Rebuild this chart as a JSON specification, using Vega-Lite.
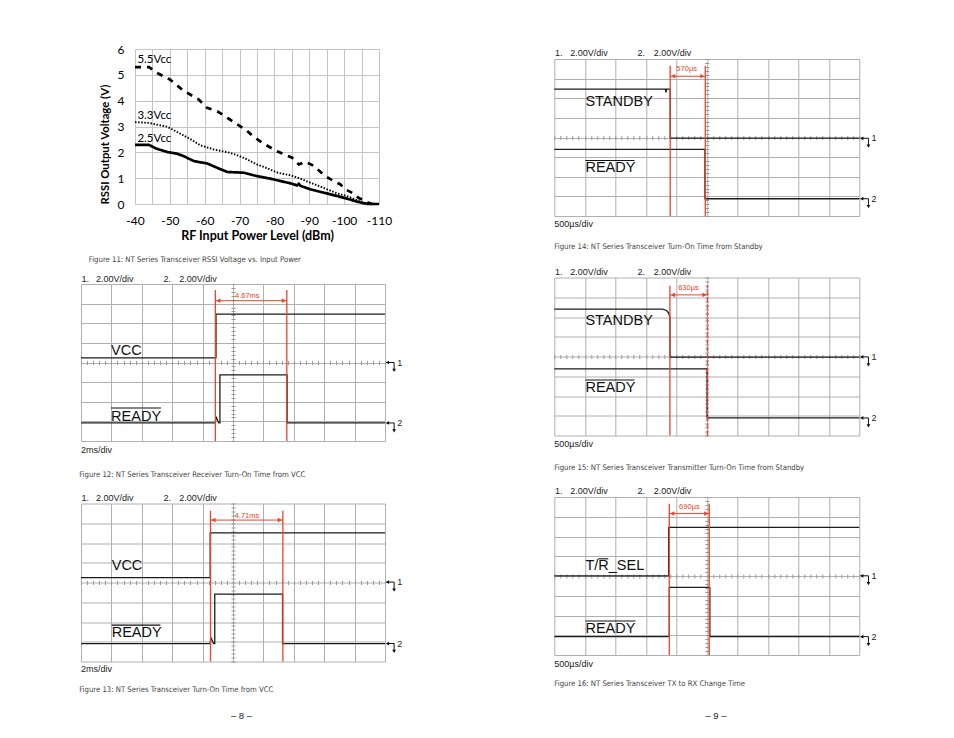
{
  "$schema": "https://vega.github.io/schema/vega-lite/v6.json",
  "background": "white",
  "padding": {"left": 78, "top": 43, "right": 20, "bottom": 10},
  "autosize": {"type": "pad"},
  "config": {"view": {"stroke": null}, "font": "Liberation Sans"},
  "bounds": "flush",
  "spacing": 473.3,
  "hconcat": [
    {
      "bounds": "flush",
      "spacing": 235,
      "vconcat": [
        {
          "bounds": "flush",
          "spacing": 53,
          "hconcat": [
            {"width": 1, "height": 1, "data": {"values": [{}]}, "mark": {"type": "point", "opacity": 0}, "encoding": {}},
            {
              "width": 244,
              "height": 155,
              "resolve": {"axis": {"x": "independent", "y": "independent"}},
              "layer": [
                {
                  "data": {"values": [
                    {"s": "5.5Vcc", "p": -40, "v": 5.3}, {"s": "5.5Vcc", "p": -44, "v": 5.3}, {"s": "5.5Vcc", "p": -46.4, "v": 5.07}, {"s": "5.5Vcc", "p": -50, "v": 4.82}, {"s": "5.5Vcc", "p": -53.8, "v": 4.4}, {"s": "5.5Vcc", "p": -58.3, "v": 4.04}, {"s": "5.5Vcc", "p": -60.7, "v": 3.72}, {"s": "5.5Vcc", "p": -63.6, "v": 3.59}, {"s": "5.5Vcc", "p": -66.9, "v": 3.3}, {"s": "5.5Vcc", "p": -69.8, "v": 3.04}, {"s": "5.5Vcc", "p": -71.7, "v": 2.88}, {"s": "5.5Vcc", "p": -74.1, "v": 2.59}, {"s": "5.5Vcc", "p": -77.4, "v": 2.3}, {"s": "5.5Vcc", "p": -80.3, "v": 2.07}, {"s": "5.5Vcc", "p": -85.1, "v": 1.79}, {"s": "5.5Vcc", "p": -87, "v": 1.53}, {"s": "5.5Vcc", "p": -88.9, "v": 1.64}, {"s": "5.5Vcc", "p": -91.3, "v": 1.47}, {"s": "5.5Vcc", "p": -94.6, "v": 1.08}, {"s": "5.5Vcc", "p": -97, "v": 0.89}, {"s": "5.5Vcc", "p": -98.9, "v": 0.76}, {"s": "5.5Vcc", "p": -100.3, "v": 0.57}, {"s": "5.5Vcc", "p": -103.2, "v": 0.37}, {"s": "5.5Vcc", "p": -104.1, "v": 0.24}, {"s": "5.5Vcc", "p": -107, "v": 0.05}, {"s": "5.5Vcc", "p": -108, "v": 0.0},
                    {"s": "3.3Vcc", "p": -40, "v": 3.17}, {"s": "3.3Vcc", "p": -44, "v": 3.14}, {"s": "3.3Vcc", "p": -46, "v": 3.08}, {"s": "3.3Vcc", "p": -49.3, "v": 2.99}, {"s": "3.3Vcc", "p": -52.6, "v": 2.75}, {"s": "3.3Vcc", "p": -56, "v": 2.5}, {"s": "3.3Vcc", "p": -58.8, "v": 2.27}, {"s": "3.3Vcc", "p": -62.6, "v": 2.11}, {"s": "3.3Vcc", "p": -67.4, "v": 1.98}, {"s": "3.3Vcc", "p": -71.2, "v": 1.79}, {"s": "3.3Vcc", "p": -75, "v": 1.53}, {"s": "3.3Vcc", "p": -78, "v": 1.38}, {"s": "3.3Vcc", "p": -81, "v": 1.21}, {"s": "3.3Vcc", "p": -84.6, "v": 1.11}, {"s": "3.3Vcc", "p": -87.5, "v": 0.98}, {"s": "3.3Vcc", "p": -90.4, "v": 0.82}, {"s": "3.3Vcc", "p": -94, "v": 0.63}, {"s": "3.3Vcc", "p": -98, "v": 0.41}, {"s": "3.3Vcc", "p": -100.8, "v": 0.31}, {"s": "3.3Vcc", "p": -103.7, "v": 0.14}, {"s": "3.3Vcc", "p": -105.6, "v": 0.05}, {"s": "3.3Vcc", "p": -107, "v": 0.02}, {"s": "3.3Vcc", "p": -110, "v": 0.0},
                    {"s": "2.5Vcc", "p": -40, "v": 2.29}, {"s": "2.5Vcc", "p": -44, "v": 2.29}, {"s": "2.5Vcc", "p": -46, "v": 2.15}, {"s": "2.5Vcc", "p": -49.3, "v": 2.01}, {"s": "2.5Vcc", "p": -52, "v": 1.95}, {"s": "2.5Vcc", "p": -54, "v": 1.85}, {"s": "2.5Vcc", "p": -56.9, "v": 1.66}, {"s": "2.5Vcc", "p": -60.7, "v": 1.57}, {"s": "2.5Vcc", "p": -63.6, "v": 1.4}, {"s": "2.5Vcc", "p": -66.5, "v": 1.24}, {"s": "2.5Vcc", "p": -71.2, "v": 1.21}, {"s": "2.5Vcc", "p": -75, "v": 1.08}, {"s": "2.5Vcc", "p": -78.9, "v": 0.98}, {"s": "2.5Vcc", "p": -81.7, "v": 0.89}, {"s": "2.5Vcc", "p": -84.6, "v": 0.8}, {"s": "2.5Vcc", "p": -86.5, "v": 0.72}, {"s": "2.5Vcc", "p": -87, "v": 0.78}, {"s": "2.5Vcc", "p": -87.5, "v": 0.7}, {"s": "2.5Vcc", "p": -90.3, "v": 0.57}, {"s": "2.5Vcc", "p": -94.1, "v": 0.44}, {"s": "2.5Vcc", "p": -98, "v": 0.31}, {"s": "2.5Vcc", "p": -100.8, "v": 0.21}, {"s": "2.5Vcc", "p": -103.7, "v": 0.09}, {"s": "2.5Vcc", "p": -105.6, "v": 0.03}, {"s": "2.5Vcc", "p": -107, "v": 0.0}, {"s": "2.5Vcc", "p": -110, "v": 0.0}
                  ]},
                  "mark": {"type": "line", "color": "#000000"},
                  "encoding": {
                    "x": {"field": "p", "type": "quantitative", "scale": {"domain": [-40, -110], "nice": false, "zero": false},
                      "axis": {"orient": "bottom", "values": [-40, -45, -50, -55, -60, -65, -70, -75, -80, -85, -90, -95, -100, -105, -110], "grid": true, "gridColor": "#c4c4c4", "gridOpacity": 1, "ticks": false, "domain": false, "labelFlush": false, "labelOverlap": false,
                        "labelExpr": "datum.value % 10 == 0 ? '-' + abs(datum.value) : ''", "labelFont": "Lato", "labelFontSize": 12, "labelColor": "#000000", "labelPadding": 11.5,
                        "title": "RF Input Power Level (dBm)", "titleFont": "Lato", "titleFontSize": 12.5, "titleFontWeight": "bold", "titleColor": "#000000", "titlePadding": 3}},
                    "y": {"field": "v", "type": "quantitative", "scale": {"domain": [0, 6], "nice": false},
                      "axis": {"orient": "left", "values": [0, 1, 2, 3, 4, 5, 6], "grid": true, "gridColor": "#c4c4c4", "gridOpacity": 1, "ticks": false, "domain": false, "labelOverlap": false, "labelFont": "Lato", "labelFontSize": 12, "labelColor": "#000000", "labelPadding": 11,
                        "title": "RSSI Output Voltage (V)", "titleFont": "Lato", "titleFontSize": 11.3, "titleFontWeight": "bold", "titleColor": "#000000", "titlePadding": 7, "titleAnchor": "start"}},
                    "strokeDash": {"field": "s", "type": "nominal", "scale": {"domain": ["5.5Vcc", "3.3Vcc", "2.5Vcc"], "range": [[6, 6], [1.5, 1.6], [1, 0]]}, "legend": null},
                    "strokeWidth": {"condition": {"test": "datum.s == '3.3Vcc'", "value": 1.9}, "value": 2.7}
                  }
                },
                {
                  "data": {"values": [
                    {"s": "5.5Vcc", "p": -40.7, "v": 5.56}, {"s": "3.3Vcc", "p": -40.7, "v": 3.42}, {"s": "2.5Vcc", "p": -40.7, "v": 2.5}
                  ]},
                  "mark": {"type": "text", "align": "left", "baseline": "middle", "font": "Lato", "fontSize": 11.5, "color": "#000000"},
                  "encoding": {"x": {"field": "p", "type": "quantitative", "axis": null}, "y": {"field": "v", "type": "quantitative", "axis": null}, "text": {"field": "s"}}
                },
                {
                  "data": {"values": [{"p": -26.74, "v": -2.17, "t": "Figure 11: NT Series Transceiver RSSI Voltage vs. Input Power"}]},
                  "mark": {"type": "text", "align": "left", "baseline": "middle", "font": "Liberation Sans Narrow, Arial Narrow, DejaVu Sans Condensed, sans-serif", "fontSize": 7.7, "color": "#444444"},
                  "encoding": {"x": {"field": "p", "type": "quantitative", "axis": null}, "y": {"field": "v", "type": "quantitative", "axis": null}, "text": {"field": "t"}}
                }
              ]
            }
          ]
        },
        {
          "bounds": "flush",
          "spacing": 62.5,
          "vconcat": [
            {
              "width": 304, "height": 157,
              "data": {"values": [
                {"k": "t", "ch": 1, "x": 0, "y": 4.24}, {"k": "t", "ch": 1, "x": 4.44, "y": 4.24}, {"k": "t", "ch": 1, "x": 4.44, "y": 6.47}, {"k": "t", "ch": 1, "x": 10, "y": 6.47},
                {"k": "t", "ch": 2, "x": 0, "y": 0.92}, {"k": "t", "ch": 2, "x": 4.42, "y": 0.92}, {"k": "t", "ch": 2, "x": 4.44, "y": 1.25}, {"k": "t", "ch": 2, "x": 4.53, "y": 0.92}, {"k": "t", "ch": 2, "x": 4.57, "y": 0.92}, {"k": "t", "ch": 2, "x": 4.57, "y": 3.37}, {"k": "t", "ch": 2, "x": 6.78, "y": 3.37}, {"k": "t", "ch": 2, "x": 6.78, "y": 0.92}, {"k": "t", "ch": 2, "x": 10, "y": 0.92},
                {"k": "c", "x": 4.42, "y": 0, "y2": 7.69}, {"k": "c", "x": 6.77, "y": 0, "y2": 7.69},
                {"k": "a", "x": 4.42, "x2": 6.77, "y": 7.15},
                {"k": "cl", "x": 5.47, "y": 7.4, "text": "4.67ms"},
                {"k": "s", "x": 0.02, "y": 8.28, "text": "1."}, {"k": "s", "x": 0.49, "y": 8.28, "text": "2.00V/div"}, {"k": "s", "x": 2.71, "y": 8.28, "text": "2."}, {"k": "s", "x": 3.23, "y": 8.28, "text": "2.00V/div"}, {"k": "s", "x": 0, "y": -0.47, "text": "2ms/div"},
                {"k": "cap", "x": -0.06, "y": -1.71, "text": "Figure 12: NT Series Transceiver Receiver Turn-On Time from VCC"},
                {"k": "L", "x": 0.99, "y": 4.39, "text": "VCC"}, {"k": "L", "x": 0.99, "y": 1.0, "text": "READY"},
                {"k": "o", "x": 0.99, "x2": 2.63, "y": 1.68},
                {"k": "g", "y": 4.0, "y2": 3.6, "text": "1"}, {"k": "g", "y": 0.92, "y2": 0.52, "text": "2"}
              ]},
              "resolve": {"axis": {"x": "independent", "y": "independent"}},
              "layer": [
                {"transform": [{"filter": "datum.k == 't'"}], "mark": {"type": "line", "color": "#1c1c1c", "strokeWidth": 1.3},
                  "encoding": {"x": {"field": "x", "type": "quantitative", "scale": {"domain": [0, 10], "nice": false, "zero": false}, "axis": {"grid": true, "ticks": false, "labels": false, "domain": false, "title": null, "tickCount": 10, "gridColor": "#b0b0b0", "gridOpacity": 1}},
                    "y": {"field": "y", "type": "quantitative", "scale": {"domain": [0, 8], "nice": false, "zero": false}, "axis": {"grid": true, "ticks": false, "labels": false, "domain": false, "title": null, "tickCount": 8, "gridColor": "#b0b0b0", "gridOpacity": 1}},
                    "detail": {"field": "ch", "type": "nominal"}, "order": {"value": null}}},
                {"transform": [{"filter": "datum.k == 'c'"}], "mark": {"type": "rule", "color": "#e8452b", "strokeWidth": 1.3},
                  "encoding": {"x": {"field": "x", "type": "quantitative", "axis": {"orient": "top", "offset": -80.5, "grid": false, "labels": false, "domain": false, "title": null, "tickCount": 50, "tickSize": 4, "tickColor": "#999999"}},
                    "y": {"field": "y", "type": "quantitative", "axis": {"orient": "right", "offset": -154, "grid": false, "labels": false, "domain": false, "title": null, "tickCount": 40, "tickSize": 4, "tickColor": "#999999"}},
                    "y2": {"field": "y2"}}},
                {"transform": [{"filter": "datum.k == 'a'"}], "mark": {"type": "rule", "color": "#e8452b", "strokeWidth": 1},
                  "encoding": {"x": {"field": "x", "type": "quantitative", "axis": null}, "x2": {"field": "x2"}, "y": {"field": "y", "type": "quantitative", "axis": null}}},
                {"transform": [{"filter": "datum.k == 'a'"}], "mark": {"type": "point", "shape": "triangle-left", "filled": true, "color": "#e8452b", "opacity": 1, "size": 22, "xOffset": 3},
                  "encoding": {"x": {"field": "x", "type": "quantitative", "axis": null}, "y": {"field": "y", "type": "quantitative", "axis": null}}},
                {"transform": [{"filter": "datum.k == 'a'"}], "mark": {"type": "point", "shape": "triangle-right", "filled": true, "color": "#e8452b", "opacity": 1, "size": 22, "xOffset": -3},
                  "encoding": {"x": {"field": "x2", "type": "quantitative", "axis": null}, "y": {"field": "y", "type": "quantitative", "axis": null}}},
                {"transform": [{"filter": "datum.k == 'cl'"}], "mark": {"type": "text", "color": "#e8452b", "fontSize": 7.5, "align": "center", "baseline": "middle"},
                  "encoding": {"x": {"field": "x", "type": "quantitative", "axis": null}, "y": {"field": "y", "type": "quantitative", "axis": null}, "text": {"field": "text"}}},
                {"transform": [{"filter": "datum.k == 's'"}], "mark": {"type": "text", "color": "#222222", "fontSize": 9, "align": "left", "baseline": "middle"},
                  "encoding": {"x": {"field": "x", "type": "quantitative", "axis": null}, "y": {"field": "y", "type": "quantitative", "axis": null}, "text": {"field": "text"}}},
                {"transform": [{"filter": "datum.k == 'cap'"}], "mark": {"type": "text", "color": "#444444", "fontSize": 7.7, "align": "left", "baseline": "middle", "font": "Liberation Sans Narrow, Arial Narrow, DejaVu Sans Condensed, sans-serif"},
                  "encoding": {"x": {"field": "x", "type": "quantitative", "axis": null}, "y": {"field": "y", "type": "quantitative", "axis": null}, "text": {"field": "text"}}},
                {"transform": [{"filter": "datum.k == 'L'"}], "mark": {"type": "text", "color": "#111111", "fontSize": 14.5, "align": "left", "baseline": "alphabetic"},
                  "encoding": {"x": {"field": "x", "type": "quantitative", "axis": null}, "y": {"field": "y", "type": "quantitative", "axis": null}, "text": {"field": "text"}}},
                {"transform": [{"filter": "datum.k == 'o'"}], "mark": {"type": "rule", "color": "#111111", "strokeWidth": 1.1},
                  "encoding": {"x": {"field": "x", "type": "quantitative", "axis": null}, "x2": {"field": "x2"}, "y": {"field": "y", "type": "quantitative", "axis": null}}},
                {"transform": [{"filter": "datum.k == 'g'"}], "mark": {"type": "rule", "color": "#111111", "strokeWidth": 1},
                  "encoding": {"x": {"datum": 10.05, "type": "quantitative", "axis": null}, "x2": {"datum": 10.3}, "y": {"field": "y", "type": "quantitative", "axis": null}}},
                {"transform": [{"filter": "datum.k == 'g'"}], "mark": {"type": "point", "shape": "triangle-left", "filled": true, "color": "#111111", "opacity": 1, "size": 14},
                  "encoding": {"x": {"datum": 10.08, "type": "quantitative", "axis": null}, "y": {"field": "y", "type": "quantitative", "axis": null}}},
                {"transform": [{"filter": "datum.k == 'g'"}], "mark": {"type": "rule", "color": "#111111", "strokeWidth": 1},
                  "encoding": {"x": {"datum": 10.3, "type": "quantitative", "axis": null}, "y": {"field": "y", "type": "quantitative", "axis": null}, "y2": {"field": "y2"}}},
                {"transform": [{"filter": "datum.k == 'g'"}], "mark": {"type": "point", "shape": "triangle-down", "filled": true, "color": "#111111", "opacity": 1, "size": 14},
                  "encoding": {"x": {"datum": 10.3, "type": "quantitative", "axis": null}, "y": {"field": "y2", "type": "quantitative", "axis": null}}},
                {"transform": [{"filter": "datum.k == 'g'"}], "mark": {"type": "text", "color": "#222222", "fontSize": 9, "align": "left", "baseline": "middle"},
                  "encoding": {"x": {"datum": 10.4, "type": "quantitative", "axis": null}, "y": {"field": "y", "type": "quantitative", "axis": null}, "text": {"field": "text"}}}
              ]
            },
            {
              "width": 304, "height": 158,
              "data": {"values": [
                {"k": "t", "ch": 1, "x": 0, "y": 4.25}, {"k": "t", "ch": 1, "x": 4.25, "y": 4.25}, {"k": "t", "ch": 1, "x": 4.25, "y": 6.51}, {"k": "t", "ch": 1, "x": 10, "y": 6.51},
                {"k": "t", "ch": 2, "x": 0, "y": 0.91}, {"k": "t", "ch": 2, "x": 4.25, "y": 0.91}, {"k": "t", "ch": 2, "x": 4.27, "y": 1.22}, {"k": "t", "ch": 2, "x": 4.36, "y": 0.91}, {"k": "t", "ch": 2, "x": 4.4, "y": 0.91}, {"k": "t", "ch": 2, "x": 4.4, "y": 3.41}, {"k": "t", "ch": 2, "x": 6.63, "y": 3.41}, {"k": "t", "ch": 2, "x": 6.63, "y": 0.91}, {"k": "t", "ch": 2, "x": 10, "y": 0.91},
                {"k": "c", "x": 4.26, "y": 0, "y2": 7.63}, {"k": "c", "x": 6.64, "y": 0, "y2": 7.63},
                {"k": "a", "x": 4.26, "x2": 6.64, "y": 7.16},
                {"k": "cl", "x": 5.46, "y": 7.37, "text": "4.71ms"},
                {"k": "s", "x": 0.02, "y": 8.29, "text": "1."}, {"k": "s", "x": 0.49, "y": 8.29, "text": "2.00V/div"}, {"k": "s", "x": 2.71, "y": 8.29, "text": "2."}, {"k": "s", "x": 3.23, "y": 8.29, "text": "2.00V/div"}, {"k": "s", "x": 0, "y": -0.38, "text": "2ms/div"},
                {"k": "cap", "x": -0.06, "y": -1.45, "text": "Figure 13: NT Series Transceiver Turn-On Time from VCC"},
                {"k": "L", "x": 1.01, "y": 4.62, "text": "VCC"}, {"k": "L", "x": 1.01, "y": 1.22, "text": "READY"},
                {"k": "o", "x": 1.01, "x2": 2.61, "y": 1.84},
                {"k": "g", "y": 4.02, "y2": 3.62, "text": "1"}, {"k": "g", "y": 0.91, "y2": 0.51, "text": "2"},
                {"k": "pg", "x": 5.28, "y": -2.75, "text": "– 8 –"}
              ]},
              "resolve": {"axis": {"x": "independent", "y": "independent"}},
              "layer": [
                {"transform": [{"filter": "datum.k == 't'"}], "mark": {"type": "line", "color": "#1c1c1c", "strokeWidth": 1.3},
                  "encoding": {"x": {"field": "x", "type": "quantitative", "scale": {"domain": [0, 10], "nice": false, "zero": false}, "axis": {"grid": true, "ticks": false, "labels": false, "domain": false, "title": null, "tickCount": 10, "gridColor": "#b0b0b0", "gridOpacity": 1}},
                    "y": {"field": "y", "type": "quantitative", "scale": {"domain": [0, 8], "nice": false, "zero": false}, "axis": {"grid": true, "ticks": false, "labels": false, "domain": false, "title": null, "tickCount": 8, "gridColor": "#b0b0b0", "gridOpacity": 1}},
                    "detail": {"field": "ch", "type": "nominal"}, "order": {"value": null}}},
                {"transform": [{"filter": "datum.k == 'c'"}], "mark": {"type": "rule", "color": "#e8452b", "strokeWidth": 1.3},
                  "encoding": {"x": {"field": "x", "type": "quantitative", "axis": {"orient": "top", "offset": -81, "grid": false, "labels": false, "domain": false, "title": null, "tickCount": 50, "tickSize": 4, "tickColor": "#999999"}},
                    "y": {"field": "y", "type": "quantitative", "axis": {"orient": "right", "offset": -154, "grid": false, "labels": false, "domain": false, "title": null, "tickCount": 40, "tickSize": 4, "tickColor": "#999999"}},
                    "y2": {"field": "y2"}}},
                {"transform": [{"filter": "datum.k == 'a'"}], "mark": {"type": "rule", "color": "#e8452b", "strokeWidth": 1},
                  "encoding": {"x": {"field": "x", "type": "quantitative", "axis": null}, "x2": {"field": "x2"}, "y": {"field": "y", "type": "quantitative", "axis": null}}},
                {"transform": [{"filter": "datum.k == 'a'"}], "mark": {"type": "point", "shape": "triangle-left", "filled": true, "color": "#e8452b", "opacity": 1, "size": 22, "xOffset": 3},
                  "encoding": {"x": {"field": "x", "type": "quantitative", "axis": null}, "y": {"field": "y", "type": "quantitative", "axis": null}}},
                {"transform": [{"filter": "datum.k == 'a'"}], "mark": {"type": "point", "shape": "triangle-right", "filled": true, "color": "#e8452b", "opacity": 1, "size": 22, "xOffset": -3},
                  "encoding": {"x": {"field": "x2", "type": "quantitative", "axis": null}, "y": {"field": "y", "type": "quantitative", "axis": null}}},
                {"transform": [{"filter": "datum.k == 'cl'"}], "mark": {"type": "text", "color": "#e8452b", "fontSize": 7.5, "align": "center", "baseline": "middle"},
                  "encoding": {"x": {"field": "x", "type": "quantitative", "axis": null}, "y": {"field": "y", "type": "quantitative", "axis": null}, "text": {"field": "text"}}},
                {"transform": [{"filter": "datum.k == 's'"}], "mark": {"type": "text", "color": "#222222", "fontSize": 9, "align": "left", "baseline": "middle"},
                  "encoding": {"x": {"field": "x", "type": "quantitative", "axis": null}, "y": {"field": "y", "type": "quantitative", "axis": null}, "text": {"field": "text"}}},
                {"transform": [{"filter": "datum.k == 'cap'"}], "mark": {"type": "text", "color": "#444444", "fontSize": 7.7, "align": "left", "baseline": "middle", "font": "Liberation Sans Narrow, Arial Narrow, DejaVu Sans Condensed, sans-serif"},
                  "encoding": {"x": {"field": "x", "type": "quantitative", "axis": null}, "y": {"field": "y", "type": "quantitative", "axis": null}, "text": {"field": "text"}}},
                {"transform": [{"filter": "datum.k == 'pg'"}], "mark": {"type": "text", "color": "#222222", "fontSize": 9.5, "align": "center", "baseline": "middle"},
                  "encoding": {"x": {"field": "x", "type": "quantitative", "axis": null}, "y": {"field": "y", "type": "quantitative", "axis": null}, "text": {"field": "text"}}},
                {"transform": [{"filter": "datum.k == 'L'"}], "mark": {"type": "text", "color": "#111111", "fontSize": 14.5, "align": "left", "baseline": "alphabetic"},
                  "encoding": {"x": {"field": "x", "type": "quantitative", "axis": null}, "y": {"field": "y", "type": "quantitative", "axis": null}, "text": {"field": "text"}}},
                {"transform": [{"filter": "datum.k == 'o'"}], "mark": {"type": "rule", "color": "#111111", "strokeWidth": 1.1},
                  "encoding": {"x": {"field": "x", "type": "quantitative", "axis": null}, "x2": {"field": "x2"}, "y": {"field": "y", "type": "quantitative", "axis": null}}},
                {"transform": [{"filter": "datum.k == 'g'"}], "mark": {"type": "rule", "color": "#111111", "strokeWidth": 1},
                  "encoding": {"x": {"datum": 10.05, "type": "quantitative", "axis": null}, "x2": {"datum": 10.3}, "y": {"field": "y", "type": "quantitative", "axis": null}}},
                {"transform": [{"filter": "datum.k == 'g'"}], "mark": {"type": "point", "shape": "triangle-left", "filled": true, "color": "#111111", "opacity": 1, "size": 14},
                  "encoding": {"x": {"datum": 10.08, "type": "quantitative", "axis": null}, "y": {"field": "y", "type": "quantitative", "axis": null}}},
                {"transform": [{"filter": "datum.k == 'g'"}], "mark": {"type": "rule", "color": "#111111", "strokeWidth": 1},
                  "encoding": {"x": {"datum": 10.3, "type": "quantitative", "axis": null}, "y": {"field": "y", "type": "quantitative", "axis": null}, "y2": {"field": "y2"}}},
                {"transform": [{"filter": "datum.k == 'g'"}], "mark": {"type": "point", "shape": "triangle-down", "filled": true, "color": "#111111", "opacity": 1, "size": 14},
                  "encoding": {"x": {"datum": 10.3, "type": "quantitative", "axis": null}, "y": {"field": "y2", "type": "quantitative", "axis": null}}},
                {"transform": [{"filter": "datum.k == 'g'"}], "mark": {"type": "text", "color": "#222222", "fontSize": 9, "align": "left", "baseline": "middle"},
                  "encoding": {"x": {"datum": 10.4, "type": "quantitative", "axis": null}, "y": {"field": "y", "type": "quantitative", "axis": null}, "text": {"field": "text"}}}
              ]
            }
          ]
        }
      ]
    },
    {
      "bounds": "flush",
      "spacing": 9,
      "vconcat": [
        {"width": 1, "height": 1, "data": {"values": [{}]}, "mark": {"type": "point", "opacity": 0}, "encoding": {}},
        {
          "bounds": "flush",
          "spacing": 61.5,
          "vconcat": [
            {
              "width": 305, "height": 157,
              "data": {"values": [
                {"k": "t", "ch": 1, "x": 0, "y": 6.47}, {"k": "t", "ch": 1, "x": 3.64, "y": 6.47}, {"k": "t", "ch": 1, "x": 3.66, "y": 6.3}, {"k": "t", "ch": 1, "x": 3.68, "y": 6.47}, {"k": "t", "ch": 1, "x": 3.8, "y": 6.47}, {"k": "t", "ch": 1, "x": 3.8, "y": 3.97}, {"k": "t", "ch": 1, "x": 10, "y": 3.97},
                {"k": "t", "ch": 2, "x": 0, "y": 3.39}, {"k": "t", "ch": 2, "x": 4.94, "y": 3.39}, {"k": "t", "ch": 2, "x": 4.94, "y": 0.88}, {"k": "t", "ch": 2, "x": 10, "y": 0.88},
                {"k": "c", "x": 3.8, "y": 0, "y2": 7.66}, {"k": "c", "x": 4.95, "y": 0, "y2": 7.66},
                {"k": "a", "x": 3.8, "x2": 4.95, "y": 7.12},
                {"k": "cl", "x": 4.34, "y": 7.49, "text": "570µs"},
                {"k": "s", "x": 0.02, "y": 8.29, "text": "1."}, {"k": "s", "x": 0.52, "y": 8.29, "text": "2.00V/div"}, {"k": "s", "x": 2.73, "y": 8.29, "text": "2."}, {"k": "s", "x": 3.26, "y": 8.29, "text": "2.00V/div"}, {"k": "s", "x": 0, "y": -0.42, "text": "500µs/div"},
                {"k": "cap", "x": 0, "y": -1.6, "text": "Figure 14: NT Series Transceiver Turn-On Time from Standby"},
                {"k": "L", "x": 1.02, "y": 5.62, "text": "STANDBY"}, {"k": "L", "x": 1.02, "y": 2.24, "text": "READY"},
                {"k": "o", "x": 1.02, "x2": 2.63, "y": 2.83},
                {"k": "g", "y": 3.96, "y2": 3.56, "text": "1"}, {"k": "g", "y": 0.88, "y2": 0.48, "text": "2"}
              ]},
              "resolve": {"axis": {"x": "independent", "y": "independent"}},
              "layer": [
                {"transform": [{"filter": "datum.k == 't'"}], "mark": {"type": "line", "color": "#1c1c1c", "strokeWidth": 1.3},
                  "encoding": {"x": {"field": "x", "type": "quantitative", "scale": {"domain": [0, 10], "nice": false, "zero": false}, "axis": {"grid": true, "ticks": false, "labels": false, "domain": false, "title": null, "tickCount": 10, "gridColor": "#b0b0b0", "gridOpacity": 1}},
                    "y": {"field": "y", "type": "quantitative", "scale": {"domain": [0, 8], "nice": false, "zero": false}, "axis": {"grid": true, "ticks": false, "labels": false, "domain": false, "title": null, "tickCount": 8, "gridColor": "#b0b0b0", "gridOpacity": 1}},
                    "detail": {"field": "ch", "type": "nominal"}, "order": {"value": null}}},
                {"transform": [{"filter": "datum.k == 'c'"}], "mark": {"type": "rule", "color": "#e8452b", "strokeWidth": 1.3},
                  "encoding": {"x": {"field": "x", "type": "quantitative", "axis": {"orient": "top", "offset": -80.5, "grid": false, "labels": false, "domain": false, "title": null, "tickCount": 50, "tickSize": 4, "tickColor": "#999999"}},
                    "y": {"field": "y", "type": "quantitative", "axis": {"orient": "right", "offset": -154.5, "grid": false, "labels": false, "domain": false, "title": null, "tickCount": 40, "tickSize": 4, "tickColor": "#999999"}},
                    "y2": {"field": "y2"}}},
                {"transform": [{"filter": "datum.k == 'a'"}], "mark": {"type": "rule", "color": "#e8452b", "strokeWidth": 1},
                  "encoding": {"x": {"field": "x", "type": "quantitative", "axis": null}, "x2": {"field": "x2"}, "y": {"field": "y", "type": "quantitative", "axis": null}}},
                {"transform": [{"filter": "datum.k == 'a'"}], "mark": {"type": "point", "shape": "triangle-left", "filled": true, "color": "#e8452b", "opacity": 1, "size": 22, "xOffset": 3},
                  "encoding": {"x": {"field": "x", "type": "quantitative", "axis": null}, "y": {"field": "y", "type": "quantitative", "axis": null}}},
                {"transform": [{"filter": "datum.k == 'a'"}], "mark": {"type": "point", "shape": "triangle-right", "filled": true, "color": "#e8452b", "opacity": 1, "size": 22, "xOffset": -3},
                  "encoding": {"x": {"field": "x2", "type": "quantitative", "axis": null}, "y": {"field": "y", "type": "quantitative", "axis": null}}},
                {"transform": [{"filter": "datum.k == 'cl'"}], "mark": {"type": "text", "color": "#e8452b", "fontSize": 7.5, "align": "center", "baseline": "middle"},
                  "encoding": {"x": {"field": "x", "type": "quantitative", "axis": null}, "y": {"field": "y", "type": "quantitative", "axis": null}, "text": {"field": "text"}}},
                {"transform": [{"filter": "datum.k == 's'"}], "mark": {"type": "text", "color": "#222222", "fontSize": 9, "align": "left", "baseline": "middle"},
                  "encoding": {"x": {"field": "x", "type": "quantitative", "axis": null}, "y": {"field": "y", "type": "quantitative", "axis": null}, "text": {"field": "text"}}},
                {"transform": [{"filter": "datum.k == 'cap'"}], "mark": {"type": "text", "color": "#444444", "fontSize": 7.7, "align": "left", "baseline": "middle", "font": "Liberation Sans Narrow, Arial Narrow, DejaVu Sans Condensed, sans-serif"},
                  "encoding": {"x": {"field": "x", "type": "quantitative", "axis": null}, "y": {"field": "y", "type": "quantitative", "axis": null}, "text": {"field": "text"}}},
                {"transform": [{"filter": "datum.k == 'L'"}], "mark": {"type": "text", "color": "#111111", "fontSize": 14.5, "align": "left", "baseline": "alphabetic"},
                  "encoding": {"x": {"field": "x", "type": "quantitative", "axis": null}, "y": {"field": "y", "type": "quantitative", "axis": null}, "text": {"field": "text"}}},
                {"transform": [{"filter": "datum.k == 'o'"}], "mark": {"type": "rule", "color": "#111111", "strokeWidth": 1.1},
                  "encoding": {"x": {"field": "x", "type": "quantitative", "axis": null}, "x2": {"field": "x2"}, "y": {"field": "y", "type": "quantitative", "axis": null}}},
                {"transform": [{"filter": "datum.k == 'g'"}], "mark": {"type": "rule", "color": "#111111", "strokeWidth": 1},
                  "encoding": {"x": {"datum": 10.05, "type": "quantitative", "axis": null}, "x2": {"datum": 10.3}, "y": {"field": "y", "type": "quantitative", "axis": null}}},
                {"transform": [{"filter": "datum.k == 'g'"}], "mark": {"type": "point", "shape": "triangle-left", "filled": true, "color": "#111111", "opacity": 1, "size": 14},
                  "encoding": {"x": {"datum": 10.08, "type": "quantitative", "axis": null}, "y": {"field": "y", "type": "quantitative", "axis": null}}},
                {"transform": [{"filter": "datum.k == 'g'"}], "mark": {"type": "rule", "color": "#111111", "strokeWidth": 1},
                  "encoding": {"x": {"datum": 10.3, "type": "quantitative", "axis": null}, "y": {"field": "y", "type": "quantitative", "axis": null}, "y2": {"field": "y2"}}},
                {"transform": [{"filter": "datum.k == 'g'"}], "mark": {"type": "point", "shape": "triangle-down", "filled": true, "color": "#111111", "opacity": 1, "size": 14},
                  "encoding": {"x": {"datum": 10.3, "type": "quantitative", "axis": null}, "y": {"field": "y2", "type": "quantitative", "axis": null}}},
                {"transform": [{"filter": "datum.k == 'g'"}], "mark": {"type": "text", "color": "#222222", "fontSize": 9, "align": "left", "baseline": "middle"},
                  "encoding": {"x": {"datum": 10.4, "type": "quantitative", "axis": null}, "y": {"field": "y", "type": "quantitative", "axis": null}, "text": {"field": "text"}}}
              ]
            },
            {
              "width": 305, "height": 158,
              "data": {"values": [
                {"k": "t", "ch": 1, "x": 0, "y": 6.4}, {"k": "t", "ch": 1, "x": 3.55, "y": 6.4}, {"k": "t", "ch": 1, "x": 3.68, "y": 6.33}, {"k": "t", "ch": 1, "x": 3.75, "y": 6.2}, {"k": "t", "ch": 1, "x": 3.79, "y": 6.0}, {"k": "t", "ch": 1, "x": 3.79, "y": 3.97}, {"k": "t", "ch": 1, "x": 10, "y": 3.97},
                {"k": "t", "ch": 2, "x": 0, "y": 3.37}, {"k": "t", "ch": 2, "x": 5.01, "y": 3.37}, {"k": "t", "ch": 2, "x": 5.01, "y": 0.89}, {"k": "t", "ch": 2, "x": 10, "y": 0.89},
                {"k": "c", "x": 3.79, "y": 0, "y2": 7.58},
                {"k": "cd", "x": 5.02, "y": 0, "y2": 7.58},
                {"k": "a", "x": 3.79, "x2": 5.02, "y": 7.12},
                {"k": "cl", "x": 4.4, "y": 7.46, "text": "630µs"},
                {"k": "s", "x": 0.02, "y": 8.27, "text": "1."}, {"k": "s", "x": 0.52, "y": 8.27, "text": "2.00V/div"}, {"k": "s", "x": 2.73, "y": 8.27, "text": "2."}, {"k": "s", "x": 3.26, "y": 8.27, "text": "2.00V/div"}, {"k": "s", "x": 0, "y": -0.45, "text": "500µs/div"},
                {"k": "cap", "x": 0, "y": -1.64, "text": "Figure 15: NT Series Transceiver Transmitter Turn-On Time from Standby"},
                {"k": "L", "x": 1.02, "y": 5.59, "text": "STANDBY"}, {"k": "L", "x": 1.02, "y": 2.22, "text": "READY"},
                {"k": "o", "x": 1.02, "x2": 2.63, "y": 2.81},
                {"k": "g", "y": 3.98, "y2": 3.58, "text": "1"}, {"k": "g", "y": 0.89, "y2": 0.49, "text": "2"}
              ]},
              "resolve": {"axis": {"x": "independent", "y": "independent"}},
              "layer": [
                {"transform": [{"filter": "datum.k == 't'"}], "mark": {"type": "line", "color": "#1c1c1c", "strokeWidth": 1.3},
                  "encoding": {"x": {"field": "x", "type": "quantitative", "scale": {"domain": [0, 10], "nice": false, "zero": false}, "axis": {"grid": true, "ticks": false, "labels": false, "domain": false, "title": null, "tickCount": 10, "gridColor": "#b0b0b0", "gridOpacity": 1}},
                    "y": {"field": "y", "type": "quantitative", "scale": {"domain": [0, 8], "nice": false, "zero": false}, "axis": {"grid": true, "ticks": false, "labels": false, "domain": false, "title": null, "tickCount": 8, "gridColor": "#b0b0b0", "gridOpacity": 1}},
                    "detail": {"field": "ch", "type": "nominal"}, "order": {"value": null}}},
                {"transform": [{"filter": "datum.k == 'c'"}], "mark": {"type": "rule", "color": "#e8452b", "strokeWidth": 1.3},
                  "encoding": {"x": {"field": "x", "type": "quantitative", "axis": {"orient": "top", "offset": -81, "grid": false, "labels": false, "domain": false, "title": null, "tickCount": 50, "tickSize": 4, "tickColor": "#999999"}},
                    "y": {"field": "y", "type": "quantitative", "axis": {"orient": "right", "offset": -154.5, "grid": false, "labels": false, "domain": false, "title": null, "tickCount": 40, "tickSize": 4, "tickColor": "#999999"}},
                    "y2": {"field": "y2"}}},
                {"transform": [{"filter": "datum.k == 'cd'"}], "mark": {"type": "rule", "color": "#e8452b", "strokeWidth": 1.3, "strokeDash": [5, 2]},
                  "encoding": {"x": {"field": "x", "type": "quantitative", "axis": null}, "y": {"field": "y", "type": "quantitative", "axis": null}, "y2": {"field": "y2"}}},
                {"transform": [{"filter": "datum.k == 'a'"}], "mark": {"type": "rule", "color": "#e8452b", "strokeWidth": 1},
                  "encoding": {"x": {"field": "x", "type": "quantitative", "axis": null}, "x2": {"field": "x2"}, "y": {"field": "y", "type": "quantitative", "axis": null}}},
                {"transform": [{"filter": "datum.k == 'a'"}], "mark": {"type": "point", "shape": "triangle-left", "filled": true, "color": "#e8452b", "opacity": 1, "size": 22, "xOffset": 3},
                  "encoding": {"x": {"field": "x", "type": "quantitative", "axis": null}, "y": {"field": "y", "type": "quantitative", "axis": null}}},
                {"transform": [{"filter": "datum.k == 'a'"}], "mark": {"type": "point", "shape": "triangle-right", "filled": true, "color": "#e8452b", "opacity": 1, "size": 22, "xOffset": -3},
                  "encoding": {"x": {"field": "x2", "type": "quantitative", "axis": null}, "y": {"field": "y", "type": "quantitative", "axis": null}}},
                {"transform": [{"filter": "datum.k == 'cl'"}], "mark": {"type": "text", "color": "#e8452b", "fontSize": 7.5, "align": "center", "baseline": "middle"},
                  "encoding": {"x": {"field": "x", "type": "quantitative", "axis": null}, "y": {"field": "y", "type": "quantitative", "axis": null}, "text": {"field": "text"}}},
                {"transform": [{"filter": "datum.k == 's'"}], "mark": {"type": "text", "color": "#222222", "fontSize": 9, "align": "left", "baseline": "middle"},
                  "encoding": {"x": {"field": "x", "type": "quantitative", "axis": null}, "y": {"field": "y", "type": "quantitative", "axis": null}, "text": {"field": "text"}}},
                {"transform": [{"filter": "datum.k == 'cap'"}], "mark": {"type": "text", "color": "#444444", "fontSize": 7.7, "align": "left", "baseline": "middle", "font": "Liberation Sans Narrow, Arial Narrow, DejaVu Sans Condensed, sans-serif"},
                  "encoding": {"x": {"field": "x", "type": "quantitative", "axis": null}, "y": {"field": "y", "type": "quantitative", "axis": null}, "text": {"field": "text"}}},
                {"transform": [{"filter": "datum.k == 'L'"}], "mark": {"type": "text", "color": "#111111", "fontSize": 14.5, "align": "left", "baseline": "alphabetic"},
                  "encoding": {"x": {"field": "x", "type": "quantitative", "axis": null}, "y": {"field": "y", "type": "quantitative", "axis": null}, "text": {"field": "text"}}},
                {"transform": [{"filter": "datum.k == 'o'"}], "mark": {"type": "rule", "color": "#111111", "strokeWidth": 1.1},
                  "encoding": {"x": {"field": "x", "type": "quantitative", "axis": null}, "x2": {"field": "x2"}, "y": {"field": "y", "type": "quantitative", "axis": null}}},
                {"transform": [{"filter": "datum.k == 'g'"}], "mark": {"type": "rule", "color": "#111111", "strokeWidth": 1},
                  "encoding": {"x": {"datum": 10.05, "type": "quantitative", "axis": null}, "x2": {"datum": 10.3}, "y": {"field": "y", "type": "quantitative", "axis": null}}},
                {"transform": [{"filter": "datum.k == 'g'"}], "mark": {"type": "point", "shape": "triangle-left", "filled": true, "color": "#111111", "opacity": 1, "size": 14},
                  "encoding": {"x": {"datum": 10.08, "type": "quantitative", "axis": null}, "y": {"field": "y", "type": "quantitative", "axis": null}}},
                {"transform": [{"filter": "datum.k == 'g'"}], "mark": {"type": "rule", "color": "#111111", "strokeWidth": 1},
                  "encoding": {"x": {"datum": 10.3, "type": "quantitative", "axis": null}, "y": {"field": "y", "type": "quantitative", "axis": null}, "y2": {"field": "y2"}}},
                {"transform": [{"filter": "datum.k == 'g'"}], "mark": {"type": "point", "shape": "triangle-down", "filled": true, "color": "#111111", "opacity": 1, "size": 14},
                  "encoding": {"x": {"datum": 10.3, "type": "quantitative", "axis": null}, "y": {"field": "y2", "type": "quantitative", "axis": null}}},
                {"transform": [{"filter": "datum.k == 'g'"}], "mark": {"type": "text", "color": "#222222", "fontSize": 9, "align": "left", "baseline": "middle"},
                  "encoding": {"x": {"datum": 10.4, "type": "quantitative", "axis": null}, "y": {"field": "y", "type": "quantitative", "axis": null}, "text": {"field": "text"}}}
              ]
            },
            {
              "width": 305, "height": 158,
              "data": {"values": [
                {"k": "t", "ch": 1, "x": 0, "y": 4.01}, {"k": "t", "ch": 1, "x": 3.75, "y": 4.01}, {"k": "t", "ch": 1, "x": 3.75, "y": 6.46}, {"k": "t", "ch": 1, "x": 10, "y": 6.46},
                {"k": "t", "ch": 2, "x": 0, "y": 0.93}, {"k": "t", "ch": 2, "x": 3.77, "y": 0.93}, {"k": "t", "ch": 2, "x": 3.77, "y": 3.42}, {"k": "t", "ch": 2, "x": 5.1, "y": 3.42}, {"k": "t", "ch": 2, "x": 5.1, "y": 0.93}, {"k": "t", "ch": 2, "x": 10, "y": 0.93},
                {"k": "c", "x": 3.77, "y": 0, "y2": 7.66}, {"k": "c", "x": 5.08, "y": 0, "y2": 7.66},
                {"k": "a", "x": 3.77, "x2": 5.08, "y": 7.16},
                {"k": "cl", "x": 4.43, "y": 7.49, "text": "690µs"},
                {"k": "s", "x": 0.02, "y": 8.29, "text": "1."}, {"k": "s", "x": 0.52, "y": 8.29, "text": "2.00V/div"}, {"k": "s", "x": 2.73, "y": 8.29, "text": "2."}, {"k": "s", "x": 3.26, "y": 8.29, "text": "2.00V/div"}, {"k": "s", "x": 0, "y": -0.45, "text": "500µs/div"},
                {"k": "cap", "x": 0, "y": -1.47, "text": "Figure 16: NT Series Transceiver TX to RX Change Time"},
                {"k": "L", "x": 1.02, "y": 4.31, "text": "T/R_SEL"}, {"k": "L", "x": 1.02, "y": 1.13, "text": "READY"},
                {"k": "o", "x": 1.02, "x2": 2.66, "y": 1.72},
                {"k": "o", "x": 1.44, "x2": 1.77, "y": 4.87},
                {"k": "g", "y": 4.01, "y2": 3.61, "text": "1"}, {"k": "g", "y": 0.93, "y2": 0.53, "text": "2"},
                {"k": "pg", "x": 5.3, "y": -3.1, "text": "– 9 –"}
              ]},
              "resolve": {"axis": {"x": "independent", "y": "independent"}},
              "layer": [
                {"transform": [{"filter": "datum.k == 't'"}], "mark": {"type": "line", "color": "#1c1c1c", "strokeWidth": 1.3},
                  "encoding": {"x": {"field": "x", "type": "quantitative", "scale": {"domain": [0, 10], "nice": false, "zero": false}, "axis": {"grid": true, "ticks": false, "labels": false, "domain": false, "title": null, "tickCount": 10, "gridColor": "#b0b0b0", "gridOpacity": 1}},
                    "y": {"field": "y", "type": "quantitative", "scale": {"domain": [0, 8], "nice": false, "zero": false}, "axis": {"grid": true, "ticks": false, "labels": false, "domain": false, "title": null, "tickCount": 8, "gridColor": "#b0b0b0", "gridOpacity": 1}},
                    "detail": {"field": "ch", "type": "nominal"}, "order": {"value": null}}},
                {"transform": [{"filter": "datum.k == 'c'"}], "mark": {"type": "rule", "color": "#e8452b", "strokeWidth": 1.3},
                  "encoding": {"x": {"field": "x", "type": "quantitative", "axis": {"orient": "top", "offset": -81, "grid": false, "labels": false, "domain": false, "title": null, "tickCount": 50, "tickSize": 4, "tickColor": "#999999"}},
                    "y": {"field": "y", "type": "quantitative", "axis": {"orient": "right", "offset": -154.5, "grid": false, "labels": false, "domain": false, "title": null, "tickCount": 40, "tickSize": 4, "tickColor": "#999999"}},
                    "y2": {"field": "y2"}}},
                {"transform": [{"filter": "datum.k == 'a'"}], "mark": {"type": "rule", "color": "#e8452b", "strokeWidth": 1},
                  "encoding": {"x": {"field": "x", "type": "quantitative", "axis": null}, "x2": {"field": "x2"}, "y": {"field": "y", "type": "quantitative", "axis": null}}},
                {"transform": [{"filter": "datum.k == 'a'"}], "mark": {"type": "point", "shape": "triangle-left", "filled": true, "color": "#e8452b", "opacity": 1, "size": 22, "xOffset": 3},
                  "encoding": {"x": {"field": "x", "type": "quantitative", "axis": null}, "y": {"field": "y", "type": "quantitative", "axis": null}}},
                {"transform": [{"filter": "datum.k == 'a'"}], "mark": {"type": "point", "shape": "triangle-right", "filled": true, "color": "#e8452b", "opacity": 1, "size": 22, "xOffset": -3},
                  "encoding": {"x": {"field": "x2", "type": "quantitative", "axis": null}, "y": {"field": "y", "type": "quantitative", "axis": null}}},
                {"transform": [{"filter": "datum.k == 'cl'"}], "mark": {"type": "text", "color": "#e8452b", "fontSize": 7.5, "align": "center", "baseline": "middle"},
                  "encoding": {"x": {"field": "x", "type": "quantitative", "axis": null}, "y": {"field": "y", "type": "quantitative", "axis": null}, "text": {"field": "text"}}},
                {"transform": [{"filter": "datum.k == 's'"}], "mark": {"type": "text", "color": "#222222", "fontSize": 9, "align": "left", "baseline": "middle"},
                  "encoding": {"x": {"field": "x", "type": "quantitative", "axis": null}, "y": {"field": "y", "type": "quantitative", "axis": null}, "text": {"field": "text"}}},
                {"transform": [{"filter": "datum.k == 'cap'"}], "mark": {"type": "text", "color": "#444444", "fontSize": 7.7, "align": "left", "baseline": "middle", "font": "Liberation Sans Narrow, Arial Narrow, DejaVu Sans Condensed, sans-serif"},
                  "encoding": {"x": {"field": "x", "type": "quantitative", "axis": null}, "y": {"field": "y", "type": "quantitative", "axis": null}, "text": {"field": "text"}}},
                {"transform": [{"filter": "datum.k == 'pg'"}], "mark": {"type": "text", "color": "#222222", "fontSize": 9.5, "align": "center", "baseline": "middle"},
                  "encoding": {"x": {"field": "x", "type": "quantitative", "axis": null}, "y": {"field": "y", "type": "quantitative", "axis": null}, "text": {"field": "text"}}},
                {"transform": [{"filter": "datum.k == 'L'"}], "mark": {"type": "text", "color": "#111111", "fontSize": 14.5, "align": "left", "baseline": "alphabetic"},
                  "encoding": {"x": {"field": "x", "type": "quantitative", "axis": null}, "y": {"field": "y", "type": "quantitative", "axis": null}, "text": {"field": "text"}}},
                {"transform": [{"filter": "datum.k == 'o'"}], "mark": {"type": "rule", "color": "#111111", "strokeWidth": 1.1},
                  "encoding": {"x": {"field": "x", "type": "quantitative", "axis": null}, "x2": {"field": "x2"}, "y": {"field": "y", "type": "quantitative", "axis": null}}},
                {"transform": [{"filter": "datum.k == 'g'"}], "mark": {"type": "rule", "color": "#111111", "strokeWidth": 1},
                  "encoding": {"x": {"datum": 10.05, "type": "quantitative", "axis": null}, "x2": {"datum": 10.3}, "y": {"field": "y", "type": "quantitative", "axis": null}}},
                {"transform": [{"filter": "datum.k == 'g'"}], "mark": {"type": "point", "shape": "triangle-left", "filled": true, "color": "#111111", "opacity": 1, "size": 14},
                  "encoding": {"x": {"datum": 10.08, "type": "quantitative", "axis": null}, "y": {"field": "y", "type": "quantitative", "axis": null}}},
                {"transform": [{"filter": "datum.k == 'g'"}], "mark": {"type": "rule", "color": "#111111", "strokeWidth": 1},
                  "encoding": {"x": {"datum": 10.3, "type": "quantitative", "axis": null}, "y": {"field": "y", "type": "quantitative", "axis": null}, "y2": {"field": "y2"}}},
                {"transform": [{"filter": "datum.k == 'g'"}], "mark": {"type": "point", "shape": "triangle-down", "filled": true, "color": "#111111", "opacity": 1, "size": 14},
                  "encoding": {"x": {"datum": 10.3, "type": "quantitative", "axis": null}, "y": {"field": "y2", "type": "quantitative", "axis": null}}},
                {"transform": [{"filter": "datum.k == 'g'"}], "mark": {"type": "text", "color": "#222222", "fontSize": 9, "align": "left", "baseline": "middle"},
                  "encoding": {"x": {"datum": 10.4, "type": "quantitative", "axis": null}, "y": {"field": "y", "type": "quantitative", "axis": null}, "text": {"field": "text"}}}
              ]
            }
          ]
        }
      ]
    }
  ]
}
